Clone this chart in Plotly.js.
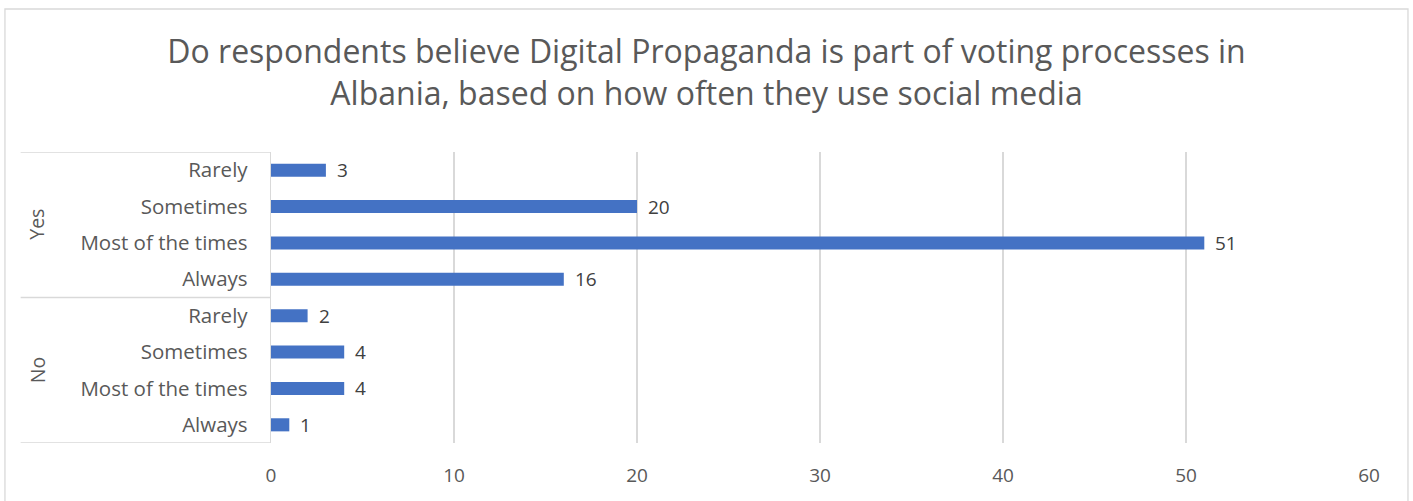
<!DOCTYPE html>
<html>
<head>
<meta charset="utf-8">
<script src="https://cdn.plot.ly/plotly-3.0.1.min.js"></script>
<style>
html,body{margin:0;padding:0;background:#fff;}
#chart{width:1413px;height:501px;}
</style>
</head>
<body>
<div id="chart"></div>
<script>
const groups = ['Yes','Yes','Yes','Yes','No','No','No','No'];
const answers = ['Rarely','Sometimes','Most of the times','Always','Rarely','Sometimes','Most of the times','Always'];
const values = [3,20,51,16,2,4,4,1];
const xTicks = [0,10,20,30,40,50,60];

const FONT = 'Open Sans, sans-serif';
const pos = answers.map((_, i) => i);

const trace = {
  type: 'bar',
  orientation: 'h',
  x: values,
  y: pos,
  marker: {color: '#4472C4'},
  hoverinfo: 'x'
};

const annotations = values.map((v, i) => ({
  x: v, y: i, xref: 'x', yref: 'y',
  text: String(v), showarrow: false,
  xanchor: 'left', xshift: 9,
  font: {family: FONT, size: 19, color: '#404040'}
}));

// group labels
const uniqGroups = [...new Set(groups)];
const shapes = [];
uniqGroups.forEach(g => {
  const idx = groups.map((x, i) => x === g ? i : -1).filter(i => i >= 0);
  const mid = (idx[0] + idx[idx.length - 1]) / 2;
  annotations.push({
    x: 0, xref: 'paper', xshift: -234, y: mid, yref: 'y',
    text: g, showarrow: false, textangle: -90,
    xanchor: 'center', yanchor: 'middle',
    font: {family: FONT, size: 19.5, color: '#595959'}
  });
  shapes.push({
    type: 'line', xref: 'paper', yref: 'y',
    x0: -0.228, x1: 0, y0: idx[0] - 0.5, y1: idx[0] - 0.5,
    line: {color: '#D9D9D9', width: 1.3}
  });
});
shapes.push({
  type: 'line', xref: 'paper', yref: 'y',
  x0: -0.228, x1: 0, y0: values.length - 0.5, y1: values.length - 0.5,
  line: {color: '#D9D9D9', width: 1.3}
});
// chart border
shapes.push({
  type: 'rect', xref: 'paper', yref: 'paper',
  x0: -0.2423, x1: 1.0355, y0: -0.25, y1: 1.4914,
  line: {color: '#D9D9D9', width: 1.3}, fillcolor: 'rgba(0,0,0,0)', layer: 'below'
});

const layout = {
  width: 1413, height: 501,
  margin: {l: 271, r: 44, t: 152, b: 58},
  paper_bgcolor: '#ffffff', plot_bgcolor: '#ffffff',
  showlegend: false,
  bargap: 0.64,
  title: {
    text: 'Do respondents believe Digital Propaganda is part of voting processes in<br>Albania, based on how often they use social media',
    font: {family: FONT, size: 32, color: '#595959'},
    x: 0.5, xref: 'container', xanchor: 'center',
    y: 0.874, yref: 'container', yanchor: 'top'
  },
  xaxis: {
    range: [0, 60],
    tickvals: xTicks,
    ticktext: xTicks.map(String),
    showgrid: true, gridcolor: '#D9D9D9', gridwidth: 1.3,
    zeroline: false, showline: false, ticks: '',
    tickfont: {family: FONT, size: 19, color: '#595959'},
    ticklabelstandoff: 19,
    fixedrange: true
  },
  yaxis: {
    range: [values.length - 0.5, -0.5],
    tickvals: pos,
    ticktext: answers,
    showgrid: false, zeroline: false,
    showline: true, linecolor: '#D9D9D9', linewidth: 1.3,
    ticks: '',
    ticklabelstandoff: 18,
    tickfont: {family: FONT, size: 20.5, color: '#595959'},
    fixedrange: true
  },
  shapes: shapes,
  annotations: annotations
};

Plotly.newPlot('chart', [trace], layout, {displayModeBar: false, staticPlot: true});
</script>
</body>
</html>
